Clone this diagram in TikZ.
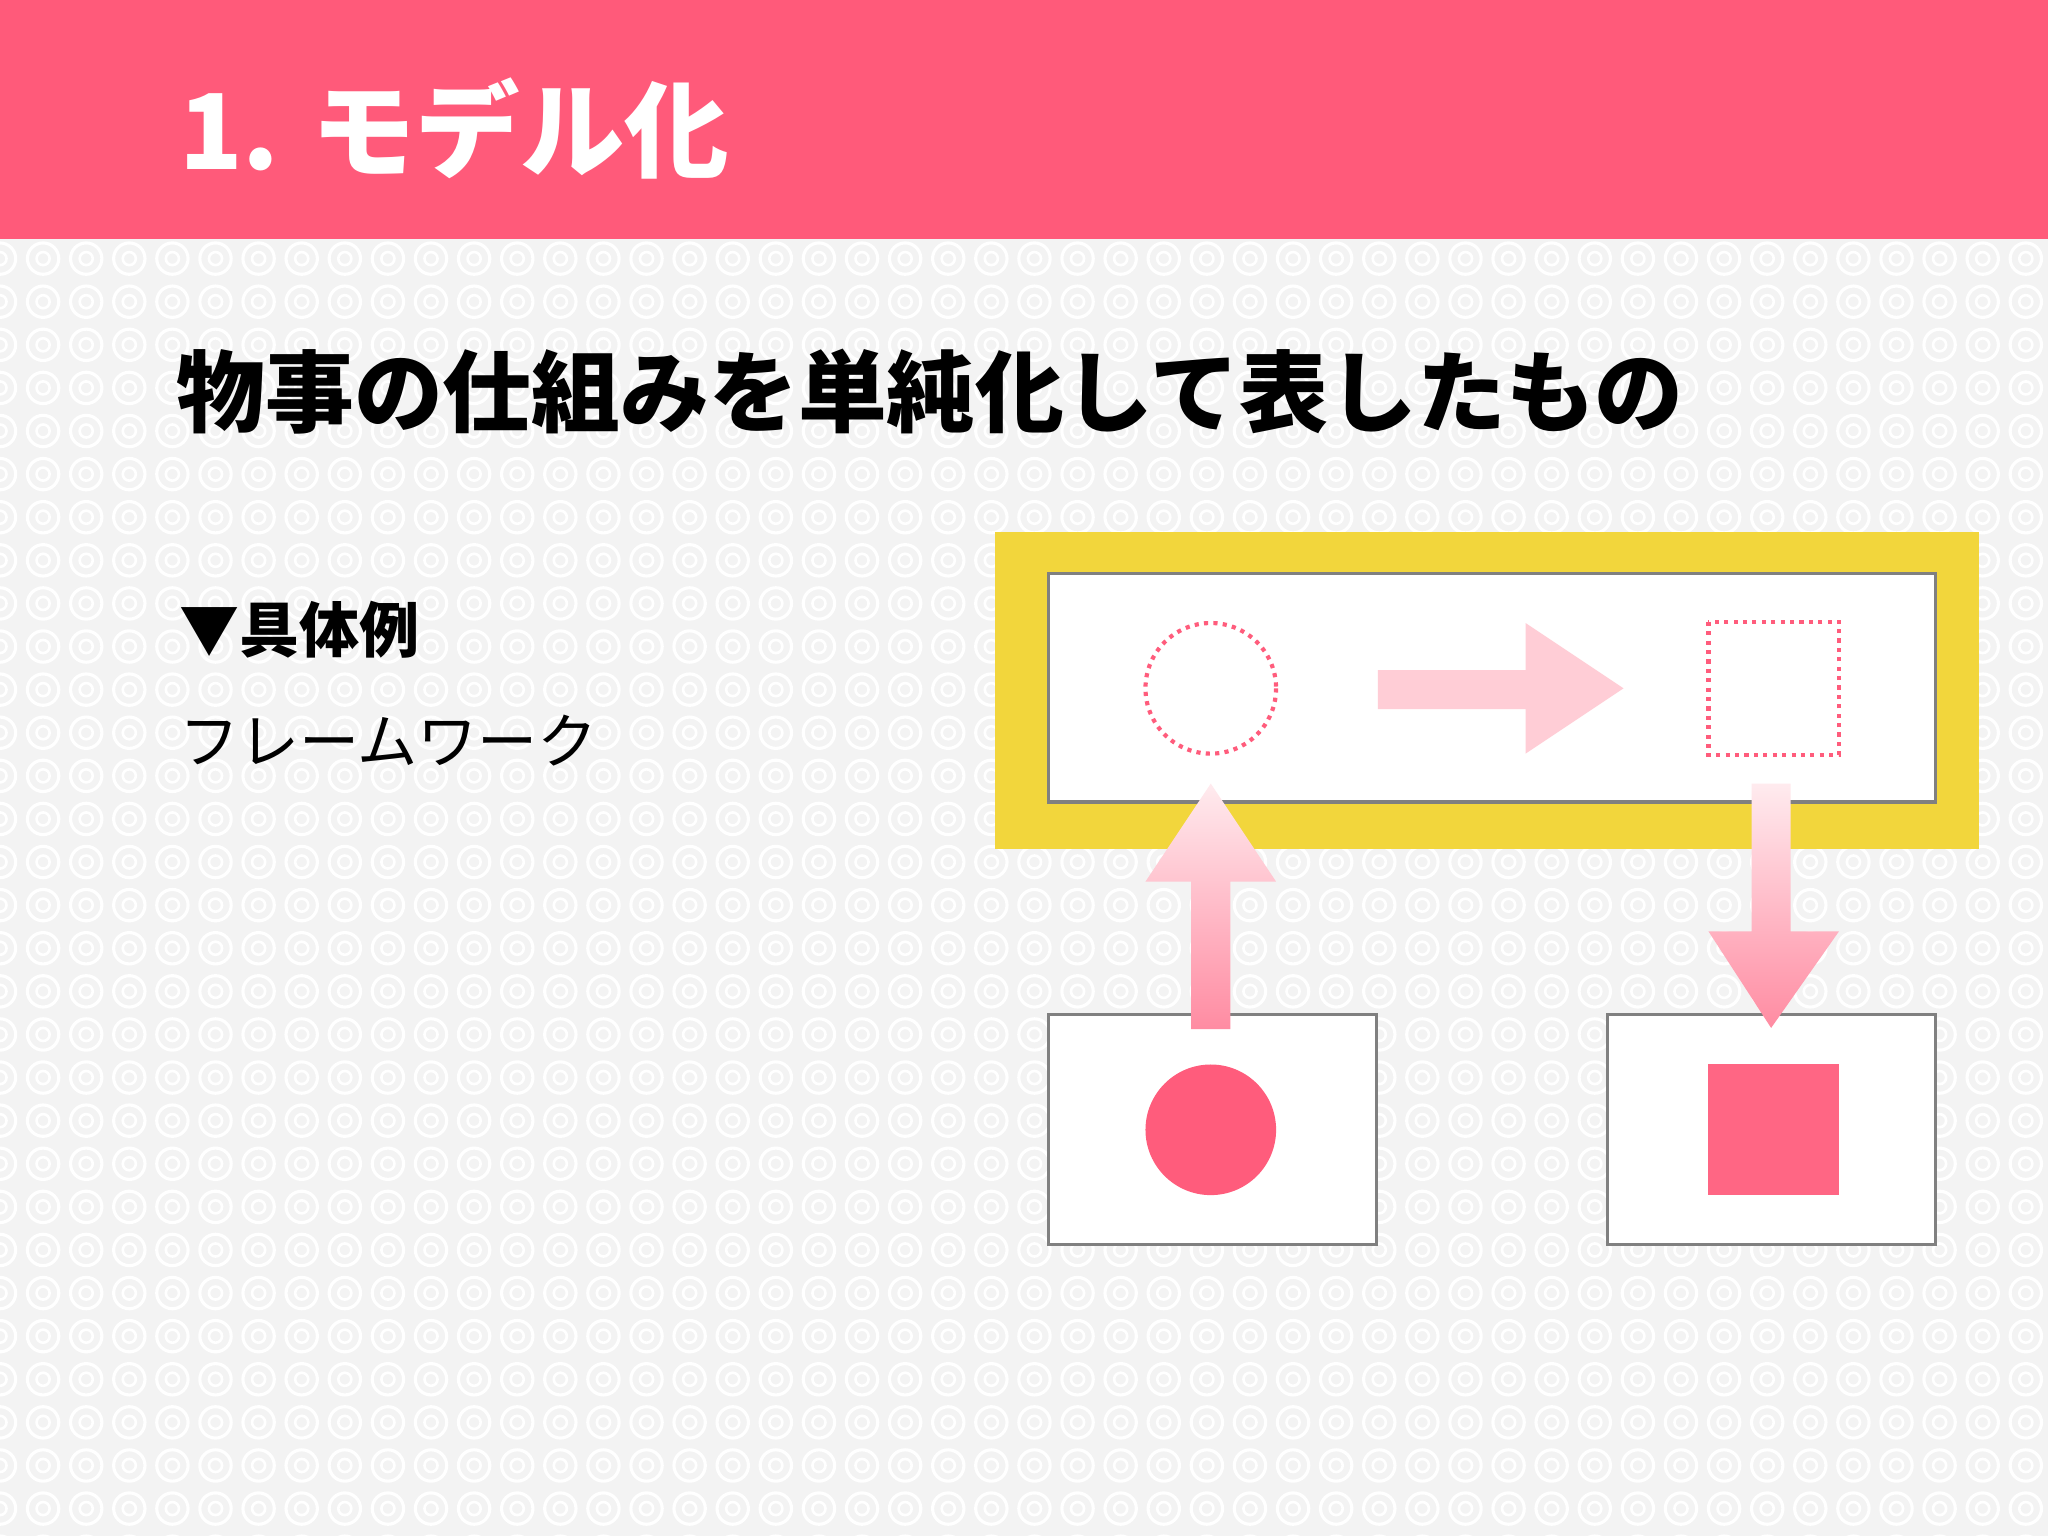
\documentclass[tikz,border=0pt]{standalone}
\usepackage{fontspec}
\newfontfamily\cjk{Noto Sans CJK JP}
\definecolor{hdr}{HTML}{FF5A7A}
\definecolor{ylw}{HTML}{F2D63C}
\definecolor{lpink}{HTML}{FFCDD6}
\definecolor{dpink}{HTML}{FF5C7C}
\definecolor{sqpink}{HTML}{FF6684}
\definecolor{bgc}{HTML}{F3F3F3}
\tikzset{frame/.style={draw=black!50,line width=1.2pt,fill=white}}
\begin{document}
\begin{tikzpicture}[x=0.5pt,y=-0.5pt]
\useasboundingbox (0,0) rectangle (1568,1176);
\fill[bgc] (0,183) rectangle (1568,1176);
\begin{scope}
\clip (0,183) rectangle (1568,1176);
\foreach \i in {0,...,48}{\foreach \j in {5,...,36}{
  \draw[white,line width=1.2pt] (\i*33,\j*33) circle (12);
  \draw[white,line width=1pt] (\i*33,\j*33) circle (5);
}}
\end{scope}
\fill[hdr] (0,0) rectangle (1568,183);
\node[anchor=west,text=white,font=\cjk\bfseries\fontsize{40}{40}\selectfont] (title) at (130,98) {1. モデル化};
\node[anchor=west,font=\cjk\bfseries\fontsize{34}{34}\selectfont] (main) at (128,300) {物事の仕組みを単純化して表したもの};
\node[anchor=west,font=\cjk\bfseries\fontsize{23}{23}\selectfont] (ex) at (130,482) {▼具体例};
\node[anchor=west,font=\cjk\fontsize{23}{23}\selectfont] (fw) at (130,567) {フレームワーク};
% yellow frame
\fill[ylw] (762,407) rectangle (1515,650);
\draw[frame] (803,439) rectangle (1482,614);
\draw[dpink,line width=1.6pt,dotted] (927,527) circle (50);
\draw[dpink,line width=1.6pt,dotted] (1308,476) rectangle (1408,578);
\fill[lpink] (1055,513) -- (1168,513) -- (1168,477) -- (1243,527) -- (1168,577) -- (1168,543) -- (1055,543) -- cycle;
% bottom boxes
\draw[frame] (803,777) rectangle (1054,953);
\draw[frame] (1231,777) rectangle (1482,953);
\fill[dpink] (927,865) circle (50);
\fill[sqpink] (1308,815) rectangle (1408,915);
% arrows
\shade[top color=lpink!40, bottom color=hdr!70] (912,788) -- (912,675) -- (877,675) -- (927,600) -- (977,675) -- (942,675) -- (942,788) -- cycle;
\shade[top color=lpink!40, bottom color=hdr!70] (1341,600) -- (1371,600) -- (1371,713) -- (1408,713) -- (1356,787) -- (1308,713) -- (1341,713) -- cycle;
\end{tikzpicture}
\end{document}
